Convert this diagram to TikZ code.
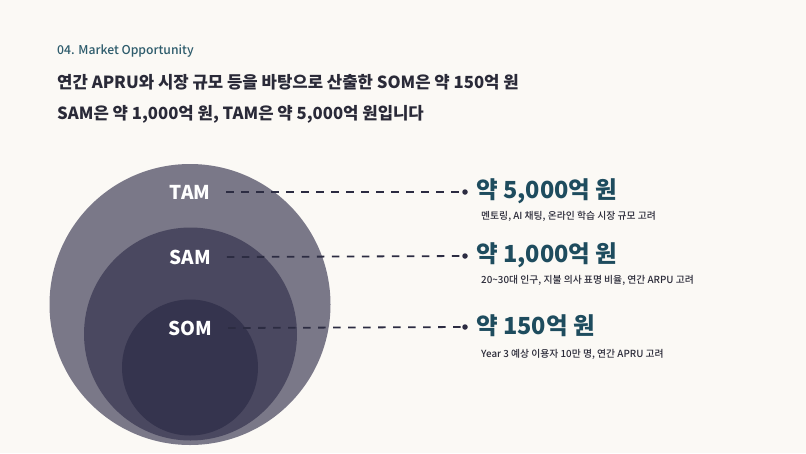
\documentclass[tikz,border=0pt]{standalone}
\usepackage{fontspec}
\setmainfont{Noto Sans CJK KR}
\newfontfamily\medfont{Noto Sans CJK KR Medium}
\definecolor{bg}{HTML}{FBF9F5}
\definecolor{ctam}{HTML}{7A7888}
\definecolor{csam}{HTML}{4A4860}
\definecolor{csom}{HTML}{35344E}
\definecolor{teal}{HTML}{1E4C5E}
\definecolor{head}{HTML}{2E5C6C}
\definecolor{ink}{HTML}{2A2A38}
\definecolor{dash}{HTML}{2C2C42}
\tikzset{
  lbl/.style={text=white, font=\bfseries\fontsize{19}{21}\selectfont, inner sep=0pt},
  val/.style={text=teal, font=\bfseries\fontsize{23.5}{26}\selectfont, anchor=west, inner sep=0pt},
  sub/.style={text=ink, font=\medfont\fontsize{9.8}{11}\selectfont, anchor=west, inner sep=0pt},
  dotnode/.style={circle, fill=dash, inner sep=0pt, minimum size=5.5pt},
  dashline/.style={draw=dash, line width=1.8pt, dash pattern=on 7.5pt off 7.5pt},
  ttl/.style={text=ink, font=\bfseries\fontsize{16.7}{20}\selectfont, anchor=west, inner sep=0pt}
}
\begin{document}
\begin{tikzpicture}[x=1pt,y=-1pt]
\fill[bg] (0,0) rectangle (806,453);
\useasboundingbox (0,0) rectangle (806,453);
\node[text=head, font=\medfont\fontsize{12.2}{14}\selectfont, anchor=west, inner sep=0pt] (hdr) at (57,51) {04. Market Opportunity};
\node[ttl] (t1) at (57,82) {연간 APRU와 시장 규모 등을 바탕으로 산출한 SOM은 약 150억 원};
\node[ttl] (t2) at (57,114) {SAM은 약 1,000억 원, TAM은 약 5,000억 원입니다};
\fill[ctam] (190,304.5) circle[radius=140.5];
\fill[csam] (190.5,334) circle[radius=106.5];
\fill[csom] (190,367.5) circle[radius=68];
\node[lbl] (tam) at (190,192) {TAM};
\node[lbl] (sam) at (190,257) {SAM};
\node[lbl] (som) at (190,328) {SOM};
\node[dotnode] (d1) at (465,192) {};
\node[dotnode] (d2) at (465,256) {};
\node[dotnode] (d3) at (465,327) {};
\draw[dashline] ([xshift=16pt]tam.east) -- (d1);
\draw[dashline] ([xshift=16pt]sam.east) -- (d2);
\draw[dashline] ([xshift=16pt]som.east) -- (d3);
\node[val] (v1) at (476,191) {약 5,000억 원};
\node[val] (v2) at (476,255) {약 1,000억 원};
\node[val] (v3) at (476,326) {약 150억 원};
\node[sub] (s1) at (481,216) {멘토링, AI 채팅, 온라인 학습 시장 규모 고려};
\node[sub] (s2) at (481,280) {20\textasciitilde30대 인구, 지불 의사 표명 비율, 연간 ARPU 고려};
\node[sub] (s3) at (481,354) {Year 3 예상 이용자 10만 명, 연간 APRU 고려};
\end{tikzpicture}
\end{document}
